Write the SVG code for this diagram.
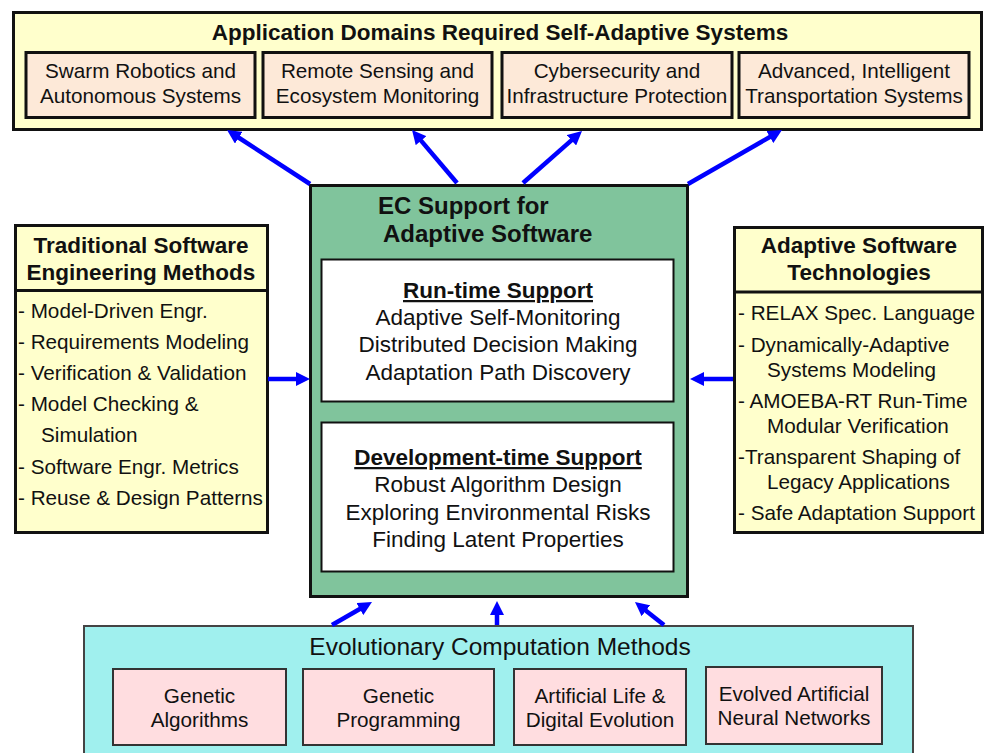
<svg xmlns="http://www.w3.org/2000/svg" width="984" height="753" viewBox="0 0 984 753">
  <defs>
    <marker id="head" markerUnits="userSpaceOnUse" markerWidth="16" markerHeight="14" refX="4" refY="7" orient="auto">
      <path d="M0,0 L14,7 L0,14 z" fill="#0000FF"/>
    </marker>
    <style>
      text { font-family: "Liberation Sans", Arial, sans-serif; fill: #111; }
      .bold { font-weight: bold; }
      .title { font-size: 22.5px; font-weight: bold; }
      .dom { fill: #FDE9D8; stroke: #111; stroke-width: 3; }
      .outer { fill: #FFFFCC; stroke: #111; stroke-width: 3; }
      .ec { fill: #FFDDE0; stroke: #333; stroke-width: 2; }
      .item { font-size: 20.7px; }
      .core { font-size: 22.5px; }
      .mid { text-anchor: middle; }
      .arrow { stroke: #0000FF; stroke-width: 4.5; fill: none; marker-end: url(#head); }
    </style>
  </defs>

  <!-- Application domains -->
  <g id="domains">
    <rect class="outer" x="13.5" y="12.5" width="968" height="117"/>
    <text class="title mid" x="500" y="40">Application Domains Required Self-Adaptive Systems</text>
    <g id="swarm">
      <rect class="dom" x="26" y="52.5" width="229" height="65"/>
      <text class="item mid" x="140.5" y="78">Swarm Robotics and</text>
      <text class="item mid" x="140.5" y="103">Autonomous Systems</text>
    </g>
    <g id="remote">
      <rect class="dom" x="263" y="52.5" width="229" height="65"/>
      <text class="item mid" x="377.5" y="78">Remote Sensing and</text>
      <text class="item mid" x="377.5" y="103">Ecosystem Monitoring</text>
    </g>
    <g id="cyber">
      <rect class="dom" x="502" y="52.5" width="230" height="65"/>
      <text class="item mid" x="617" y="78">Cybersecurity and</text>
      <text class="item mid" x="617" y="103">Infrastructure Protection</text>
    </g>
    <g id="transport">
      <rect class="dom" x="739" y="52.5" width="230" height="65"/>
      <text class="item mid" x="854" y="78">Advanced, Intelligent</text>
      <text class="item mid" x="854" y="103">Transportation Systems</text>
    </g>
  </g>

  <!-- Traditional software engineering methods -->
  <g id="traditional">
    <rect class="outer" x="15.5" y="225.5" width="252" height="307"/>
    <line x1="15.5" y1="290.5" x2="267.5" y2="290.5" stroke="#111" stroke-width="3"/>
    <text class="title mid" x="141" y="253">Traditional Software</text>
    <text class="title mid" x="141" y="280">Engineering Methods</text>
    <text class="item" x="18" y="318">- Model-Driven Engr.</text>
    <text class="item" x="18" y="349">- Requirements Modeling</text>
    <text class="item" x="18" y="380">- Verification &amp; Validation</text>
    <text class="item" x="18" y="411">- Model Checking &amp;</text>
    <text class="item" x="41" y="442">Simulation</text>
    <text class="item" x="18" y="474">- Software Engr. Metrics</text>
    <text class="item" x="18" y="505">- Reuse &amp; Design Patterns</text>
  </g>

  <!-- Adaptive software technologies -->
  <g id="adaptive">
    <rect class="outer" x="734.5" y="227.5" width="248" height="305"/>
    <line x1="734.5" y1="292" x2="982.5" y2="292" stroke="#111" stroke-width="3"/>
    <text class="title mid" x="859" y="253">Adaptive Software</text>
    <text class="title mid" x="859" y="280">Technologies</text>
    <text class="item" x="738" y="320">- RELAX Spec. Language</text>
    <text class="item" x="738" y="352">- Dynamically-Adaptive</text>
    <text class="item" x="767" y="377">Systems Modeling</text>
    <text class="item" x="738" y="408">- AMOEBA-RT Run-Time</text>
    <text class="item" x="767" y="433">Modular Verification</text>
    <text class="item" x="738" y="464">-Transparent Shaping of</text>
    <text class="item" x="767" y="489">Legacy Applications</text>
    <text class="item" x="738" y="520">- Safe Adaptation Support</text>
  </g>

  <!-- EC support for adaptive software -->
  <g id="ec-support">
    <rect x="310.5" y="185.5" width="377" height="411" fill="#80C49C" stroke="#111" stroke-width="3"/>
    <text class="bold" x="378" y="214" font-size="24">EC Support for</text>
    <text class="bold" x="383" y="242" font-size="24">Adaptive Software</text>
    <g id="runtime">
      <rect x="321.5" y="259.5" width="352" height="142" fill="#FFFFFF" stroke="#111" stroke-width="2"/>
      <text class="core bold mid" x="498" y="298" text-decoration="underline">Run-time Support</text>
      <text class="core mid" x="498" y="325">Adaptive Self-Monitoring</text>
      <text class="core mid" x="498" y="352">Distributed Decision Making</text>
      <text class="core mid" x="498" y="380">Adaptation Path Discovery</text>
    </g>
    <g id="devtime">
      <rect x="321.5" y="422.5" width="352" height="149" fill="#FFFFFF" stroke="#111" stroke-width="2"/>
      <text class="core bold mid" x="498" y="465" text-decoration="underline">Development-time Support</text>
      <text class="core mid" x="498" y="492">Robust Algorithm Design</text>
      <text class="core mid" x="498" y="520">Exploring Environmental Risks</text>
      <text class="core mid" x="498" y="547">Finding Latent Properties</text>
    </g>
  </g>

  <!-- Evolutionary computation methods -->
  <g id="evolutionary">
    <rect x="84" y="626" width="829" height="140" fill="#A0F0EE" stroke="#444" stroke-width="2"/>
    <text class="mid" x="500" y="655" font-size="24.5">Evolutionary Computation Methods</text>
    <g id="ga">
      <rect class="ec" x="113" y="669" width="173" height="76"/>
      <text class="item mid" x="199.5" y="703">Genetic</text>
      <text class="item mid" x="199.5" y="727">Algorithms</text>
    </g>
    <g id="gp">
      <rect class="ec" x="303" y="669" width="191" height="76"/>
      <text class="item mid" x="398.5" y="703">Genetic</text>
      <text class="item mid" x="398.5" y="727">Programming</text>
    </g>
    <g id="alife">
      <rect class="ec" x="514" y="669" width="172" height="76"/>
      <text class="item mid" x="600" y="703">Artificial Life &amp;</text>
      <text class="item mid" x="600" y="727">Digital Evolution</text>
    </g>
    <g id="neural">
      <rect class="ec" x="706" y="667" width="176" height="77"/>
      <text class="item mid" x="794" y="701">Evolved Artificial</text>
      <text class="item mid" x="794" y="725">Neural Networks</text>
    </g>
  </g>

  <!-- Connectors -->
  <g id="connectors">
    <line class="arrow" x1="310" y1="184" x2="235.4" y2="135.5"/>
    <line class="arrow" x1="457" y1="183" x2="418.5" y2="137.6"/>
    <line class="arrow" x1="523" y1="183" x2="574.5" y2="137.6"/>
    <line class="arrow" x1="688" y1="184" x2="773.3" y2="135"/>
    <line class="arrow" x1="268" y1="379" x2="300" y2="379"/>
    <line class="arrow" x1="733" y1="379" x2="700" y2="379"/>
    <line class="arrow" x1="332" y1="625" x2="363.3" y2="607"/>
    <line class="arrow" x1="497" y1="625" x2="497" y2="611"/>
    <line class="arrow" x1="664" y1="625" x2="642.8" y2="608.2"/>
  </g>
</svg>
